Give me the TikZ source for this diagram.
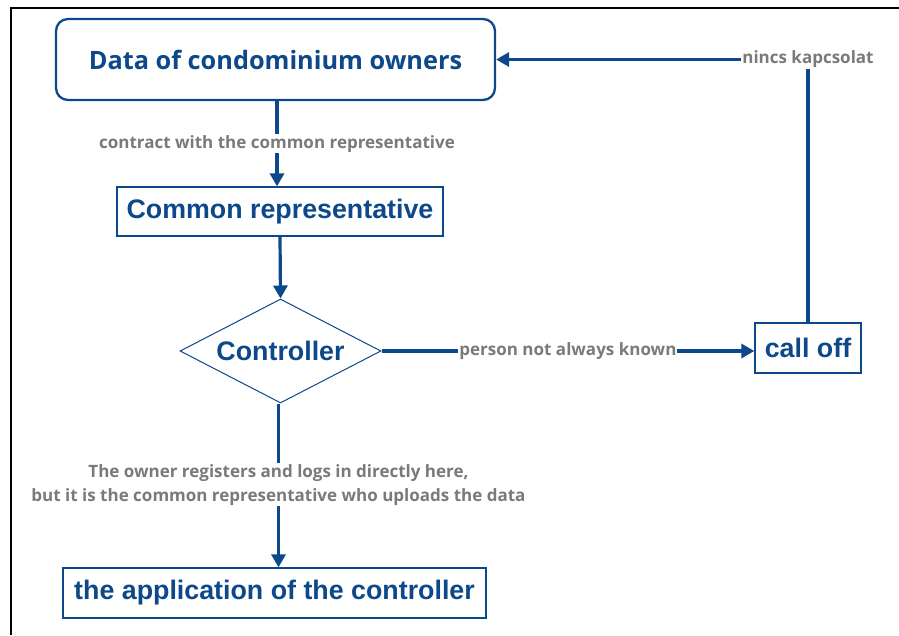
\documentclass[tikz,border=0pt]{standalone}
\usepackage{fontspec}
\setmainfont{Liberation Sans}
\newfontfamily\osb{Open Sans}[UprightFont=* Bold]
\usetikzlibrary{shapes.geometric,arrows.meta,calc}
\definecolor{dblue}{RGB}{12,72,138}
\definecolor{lgrey}{RGB}{122,122,122}
\begin{document}
\begin{tikzpicture}[x=1pt,y=-1pt,
  box/.style={draw=dblue,line width=1.3pt,fill=white,text=dblue,font=\fontsize{26.8}{30}\selectfont\bfseries,inner sep=0pt},
  conn/.style={draw=dblue,line width=3.2pt,-{Triangle[length=13pt,width=14pt]}},
  plain/.style={draw=dblue,line width=3.2pt},
  lbl/.style={fill=white,text=lgrey,font=\osb\fontsize{17}{24}\selectfont,inner sep=1pt,align=center}]
\useasboundingbox (0,0) rectangle (899,635);
\fill[white] (0,0) rectangle (899,635);
\draw[black,line width=2.5pt] (11,635) -- (11,8) -- (899,8);
\node[box,rounded corners=12pt,line width=2.3pt,minimum width=439pt,minimum height=81pt,font=\osb\fontsize{25.3}{28}\selectfont] (owners) at (275.5,59.5) {Data of condominium owners};
\node[box,minimum width=326pt,minimum height=49pt] (rep) at (280,211.5) {Common representative};
\node[box,shape=diamond,line width=1pt,minimum width=201pt,minimum height=104pt,aspect=1.93] (ctrl) at (280.5,351) {Controller};
\node[box,minimum width=106pt,minimum height=50pt] (calloff) at (808,348) {call off};
\node[box,minimum width=423pt,minimum height=50pt] (app) at (274.5,593) {the application of the controller};
\draw[conn] ($(owners.south)+(1.5,0)$) -- node[lbl,pos=0.5]{contract with the common representative} ($(owners.south |- rep.north)+(1.5,0)$);
\draw[conn] (rep.south) -- (ctrl.north);
\draw[conn] (ctrl.east) -- node[lbl]{person not always known} (ctrl.east -| calloff.west);
\coordinate (corner) at (calloff.north |- owners.east);
\draw[plain] (calloff.north) -- (corner);
\draw[conn] (corner) -- (owners.east);
\node[lbl] at (corner) {nincs kapcsolat};
\draw[conn] ($(ctrl.south)+(-2,0)$) -- node[lbl,pos=0.495]{The owner registers and logs in directly here,\\but it is the common representative who uploads the data} ($(ctrl.south |- app.north)+(-2,0)$);
\end{tikzpicture}
\end{document}
